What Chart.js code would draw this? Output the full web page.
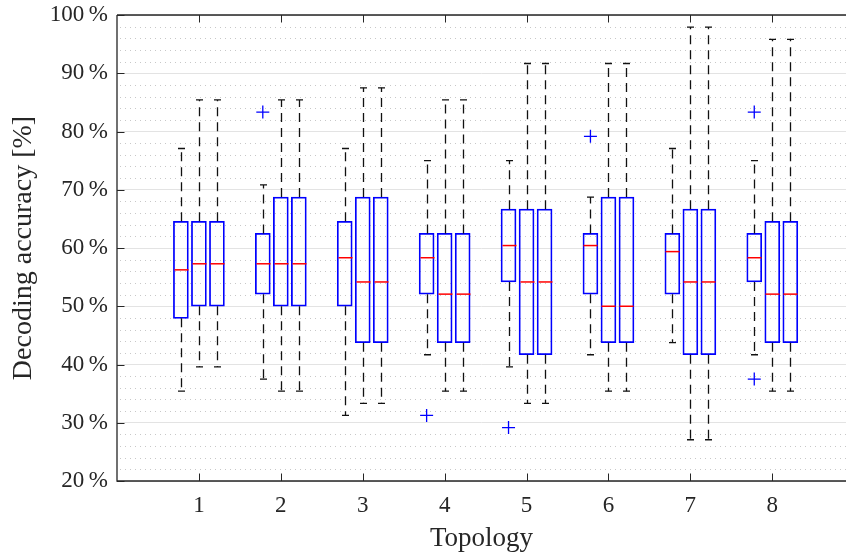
<!DOCTYPE html>
<html lang="en">
<head>
    <meta charset="UTF-8">
    <title>Decoding accuracy per topology</title>
    <script src="https://cdn.jsdelivr.net/npm/chart.js@4"></script>
    <style>
        html, body { margin: 0; padding: 0; background: #fff; }
        #wrap { width: 846px; height: 558px; }
    </style>
</head>
<body>
    <div id="wrap"><canvas id="boxChart" width="846" height="558"></canvas></div>

    <script>
        // Topologies on the x axis, three boxes per topology
        const topologies = [1, 2, 3, 4, 5, 6, 7, 8];
        const yTicks = [20, 30, 40, 50, 60, 70, 80, 90, 100];

        // Box statistics (%), one triple [box 1, box 2, box 3] per topology
        const whiskerHigh = [
            [77.08, 85.42, 85.42], [70.83, 85.42, 85.42], [77.08, 87.5, 87.5], [75, 85.42, 85.42],
            [75, 91.67, 91.67], [68.75, 91.67, 91.67], [77.08, 97.92, 97.92], [75, 95.83, 95.83]
        ];
        const q3 = [
            [64.58, 64.58, 64.58], [62.5, 68.75, 68.75], [64.58, 68.75, 68.75], [62.5, 62.5, 62.5],
            [66.67, 66.67, 66.67], [62.5, 68.75, 68.75], [62.5, 66.67, 66.67], [62.5, 64.58, 64.58]
        ];
        const median = [
            [56.25, 57.29, 57.29], [57.29, 57.29, 57.29], [58.33, 54.17, 54.17], [58.33, 52.08, 52.08],
            [60.42, 54.17, 54.17], [60.42, 50, 50], [59.38, 54.17, 54.17], [58.33, 52.08, 52.08]
        ];
        const q1 = [
            [47.92, 50, 50], [52.08, 50, 50], [50, 43.75, 43.75], [52.08, 43.75, 43.75],
            [54.17, 41.67, 41.67], [52.08, 43.75, 43.75], [52.08, 41.67, 41.67], [54.17, 43.75, 43.75]
        ];
        const whiskerLow = [
            [35.42, 39.58, 39.58], [37.5, 35.42, 35.42], [31.25, 33.33, 33.33], [41.67, 35.42, 35.42],
            [39.58, 33.33, 33.33], [41.67, 35.42, 35.42], [43.75, 27.08, 27.08], [41.67, 35.42, 35.42]
        ];
        // Outliers: [topology, box index, value]
        const outliers = [
            [2, 0, 83.33], [4, 0, 31.25], [5, 0, 29.17], [6, 0, 79.17], [8, 0, 83.33], [8, 0, 37.5]
        ];

        const boxOffset = [-0.22, 0, 0.22];   // position of each box around its topology
        const FONT = "'Liberation Serif', 'DejaVu Serif', serif";
        const AXIS = '#262626';

        // build box list from the arrays
        const boxes = [];
        topologies.forEach((t, i) => {
            boxOffset.forEach((off, j) => {
                boxes.push({
                    x: t + off,
                    y: [q1[i][j], q3[i][j]],
                    hi: whiskerHigh[i][j],
                    lo: whiskerLow[i][j],
                    med: median[i][j]
                });
            });
        });
        const outlierPoints = outliers.map(o => ({ x: o[0] + boxOffset[o[1]], y: o[2] }));

        // minor grid, whiskers, medians and the axes box
        const boxPlotPlugin = {
            id: 'boxPlot',
            beforeDatasetsDraw(chart) {
                const { ctx, chartArea, scales: { y } } = chart;
                ctx.save();
                ctx.strokeStyle = '#c8c8c8';
                ctx.lineWidth = 1;
                ctx.setLineDash([1, 4]);
                for (let v = 22; v < 100; v += 2) {
                    if (v % 10 === 0) continue;
                    const py = Math.round(y.getPixelForValue(v)) + 0.5;
                    ctx.beginPath();
                    ctx.moveTo(chartArea.left + 3, py);
                    ctx.lineTo(chartArea.right, py);
                    ctx.stroke();
                }
                ctx.restore();
            },
            afterDatasetsDraw(chart) {
                const { ctx, scales: { x, y } } = chart;
                const half = 7.5;
                ctx.save();
                boxes.forEach(b => {
                    const px = Math.round(x.getPixelForValue(b.x)) + 0.5;
                    const yHi = y.getPixelForValue(b.hi);
                    const yQ3 = y.getPixelForValue(b.y[1]);
                    const yQ1 = y.getPixelForValue(b.y[0]);
                    const yLo = y.getPixelForValue(b.lo);
                    // dashed whiskers
                    ctx.strokeStyle = '#111';
                    ctx.lineWidth = 1.3;
                    ctx.setLineDash([9, 6]);
                    ctx.beginPath();
                    ctx.moveTo(px, yQ3);
                    ctx.lineTo(px, yHi);
                    ctx.moveTo(px, yQ1);
                    ctx.lineTo(px, yLo);
                    ctx.stroke();
                    // caps
                    ctx.setLineDash([]);
                    ctx.beginPath();
                    ctx.moveTo(px - 3.5, yHi);
                    ctx.lineTo(px + 3.5, yHi);
                    ctx.moveTo(px - 3.5, yLo);
                    ctx.lineTo(px + 3.5, yLo);
                    ctx.stroke();
                    // median
                    const yM = y.getPixelForValue(b.med);
                    ctx.strokeStyle = '#ff0000';
                    ctx.lineWidth = 1.5;
                    ctx.beginPath();
                    ctx.moveTo(px - half + 0.5, yM);
                    ctx.lineTo(px + half - 0.5, yM);
                    ctx.stroke();
                });
                ctx.restore();
            },
            afterDraw(chart) {
                const { ctx, chartArea: a, scales: { x, y } } = chart;
                ctx.save();
                ctx.strokeStyle = AXIS;
                ctx.lineWidth = 1.3;
                ctx.beginPath();
                ctx.moveTo(a.left, a.top);
                ctx.lineTo(a.right, a.top);
                ctx.moveTo(a.left, a.top);
                ctx.lineTo(a.left, a.bottom);
                ctx.lineTo(a.right, a.bottom);
                ctx.stroke();
                // inward tick marks
                ctx.lineWidth = 1;
                ctx.beginPath();
                topologies.forEach(t => {
                    const px = Math.round(x.getPixelForValue(t)) + 0.5;
                    ctx.moveTo(px, a.bottom);
                    ctx.lineTo(px, a.bottom - 7.5);
                    ctx.moveTo(px, a.top);
                    ctx.lineTo(px, a.top + 7.5);
                });
                yTicks.forEach(v => {
                    const py = Math.round(y.getPixelForValue(v)) + 0.5;
                    ctx.moveTo(a.left, py);
                    ctx.lineTo(a.left + 7.5, py);
                });
                ctx.stroke();
                ctx.restore();
            }
        };

        function initializeChart() {
            const context = document.getElementById('boxChart').getContext('2d');
            new Chart(context, {
                type: 'bar',
                data: {
                    datasets: [{
                        type: 'bar',
                        label: 'Boxes',
                        data: boxes,
                        barThickness: 15,
                        backgroundColor: 'rgba(0,0,0,0)',
                        borderColor: '#0000ff',
                        borderWidth: 1.1,
                        borderSkipped: false,
                        order: 2
                    }, {
                        type: 'scatter',
                        label: 'Outliers',
                        data: outlierPoints,
                        pointStyle: 'cross',
                        radius: 6.5,
                        borderColor: '#0000ff',
                        borderWidth: 1.3,
                        order: 1
                    }]
                },
                options: {
                    responsive: false,
                    animation: false,
                    devicePixelRatio: 1,
                    layout: { autoPadding: false, padding: { top: 15, right: 0, left: 0, bottom: 0 } },
                    plugins: {
                        legend: { display: false },
                        tooltip: { enabled: false }
                    },
                    scales: {
                        x: {
                            type: 'linear',
                            min: 0,
                            max: 8.9,
                            offset: false,
                            grid: { display: false, offset: false },
                            border: { display: false },
                            afterFit(scale) {
                                scale.height = 77;
                                scale.paddingLeft = 0;
                                scale.paddingRight = 0;
                            },
                            afterBuildTicks(scale) {
                                scale.ticks = topologies.map(t => ({ value: t }));
                            },
                            ticks: {
                                autoSkip: false,
                                maxRotation: 0,
                                padding: 3,
                                color: AXIS,
                                font: { family: FONT, size: 23 },
                                callback: v => String(v)
                            },
                            title: {
                                display: true,
                                text: 'Topology',
                                color: AXIS,
                                font: { family: FONT, size: 27 },
                                padding: { top: 0, bottom: 3 }
                            }
                        },
                        y: {
                            min: 20,
                            max: 100,
                            grid: { color: '#e3e3e3', lineWidth: 1, drawTicks: false },
                            border: { display: false },
                            afterFit(scale) {
                                scale.width = 117;
                                scale.paddingTop = 0;
                                scale.paddingBottom = 0;
                            },
                            afterBuildTicks(scale) {
                                scale.ticks = yTicks.map(v => ({ value: v }));
                            },
                            ticks: {
                                padding: 9,
                                color: AXIS,
                                font: { family: FONT, size: 23 },
                                callback: v => v + '\u2009%'
                            },
                            title: {
                                display: true,
                                text: 'Decoding accuracy [%]',
                                color: AXIS,
                                font: { family: FONT, size: 28 },
                                padding: { top: 7, bottom: 0 }
                            }
                        }
                    }
                },
                plugins: [boxPlotPlugin]
            });
        }

        document.addEventListener('DOMContentLoaded', initializeChart);
    </script>
</body>
</html>
